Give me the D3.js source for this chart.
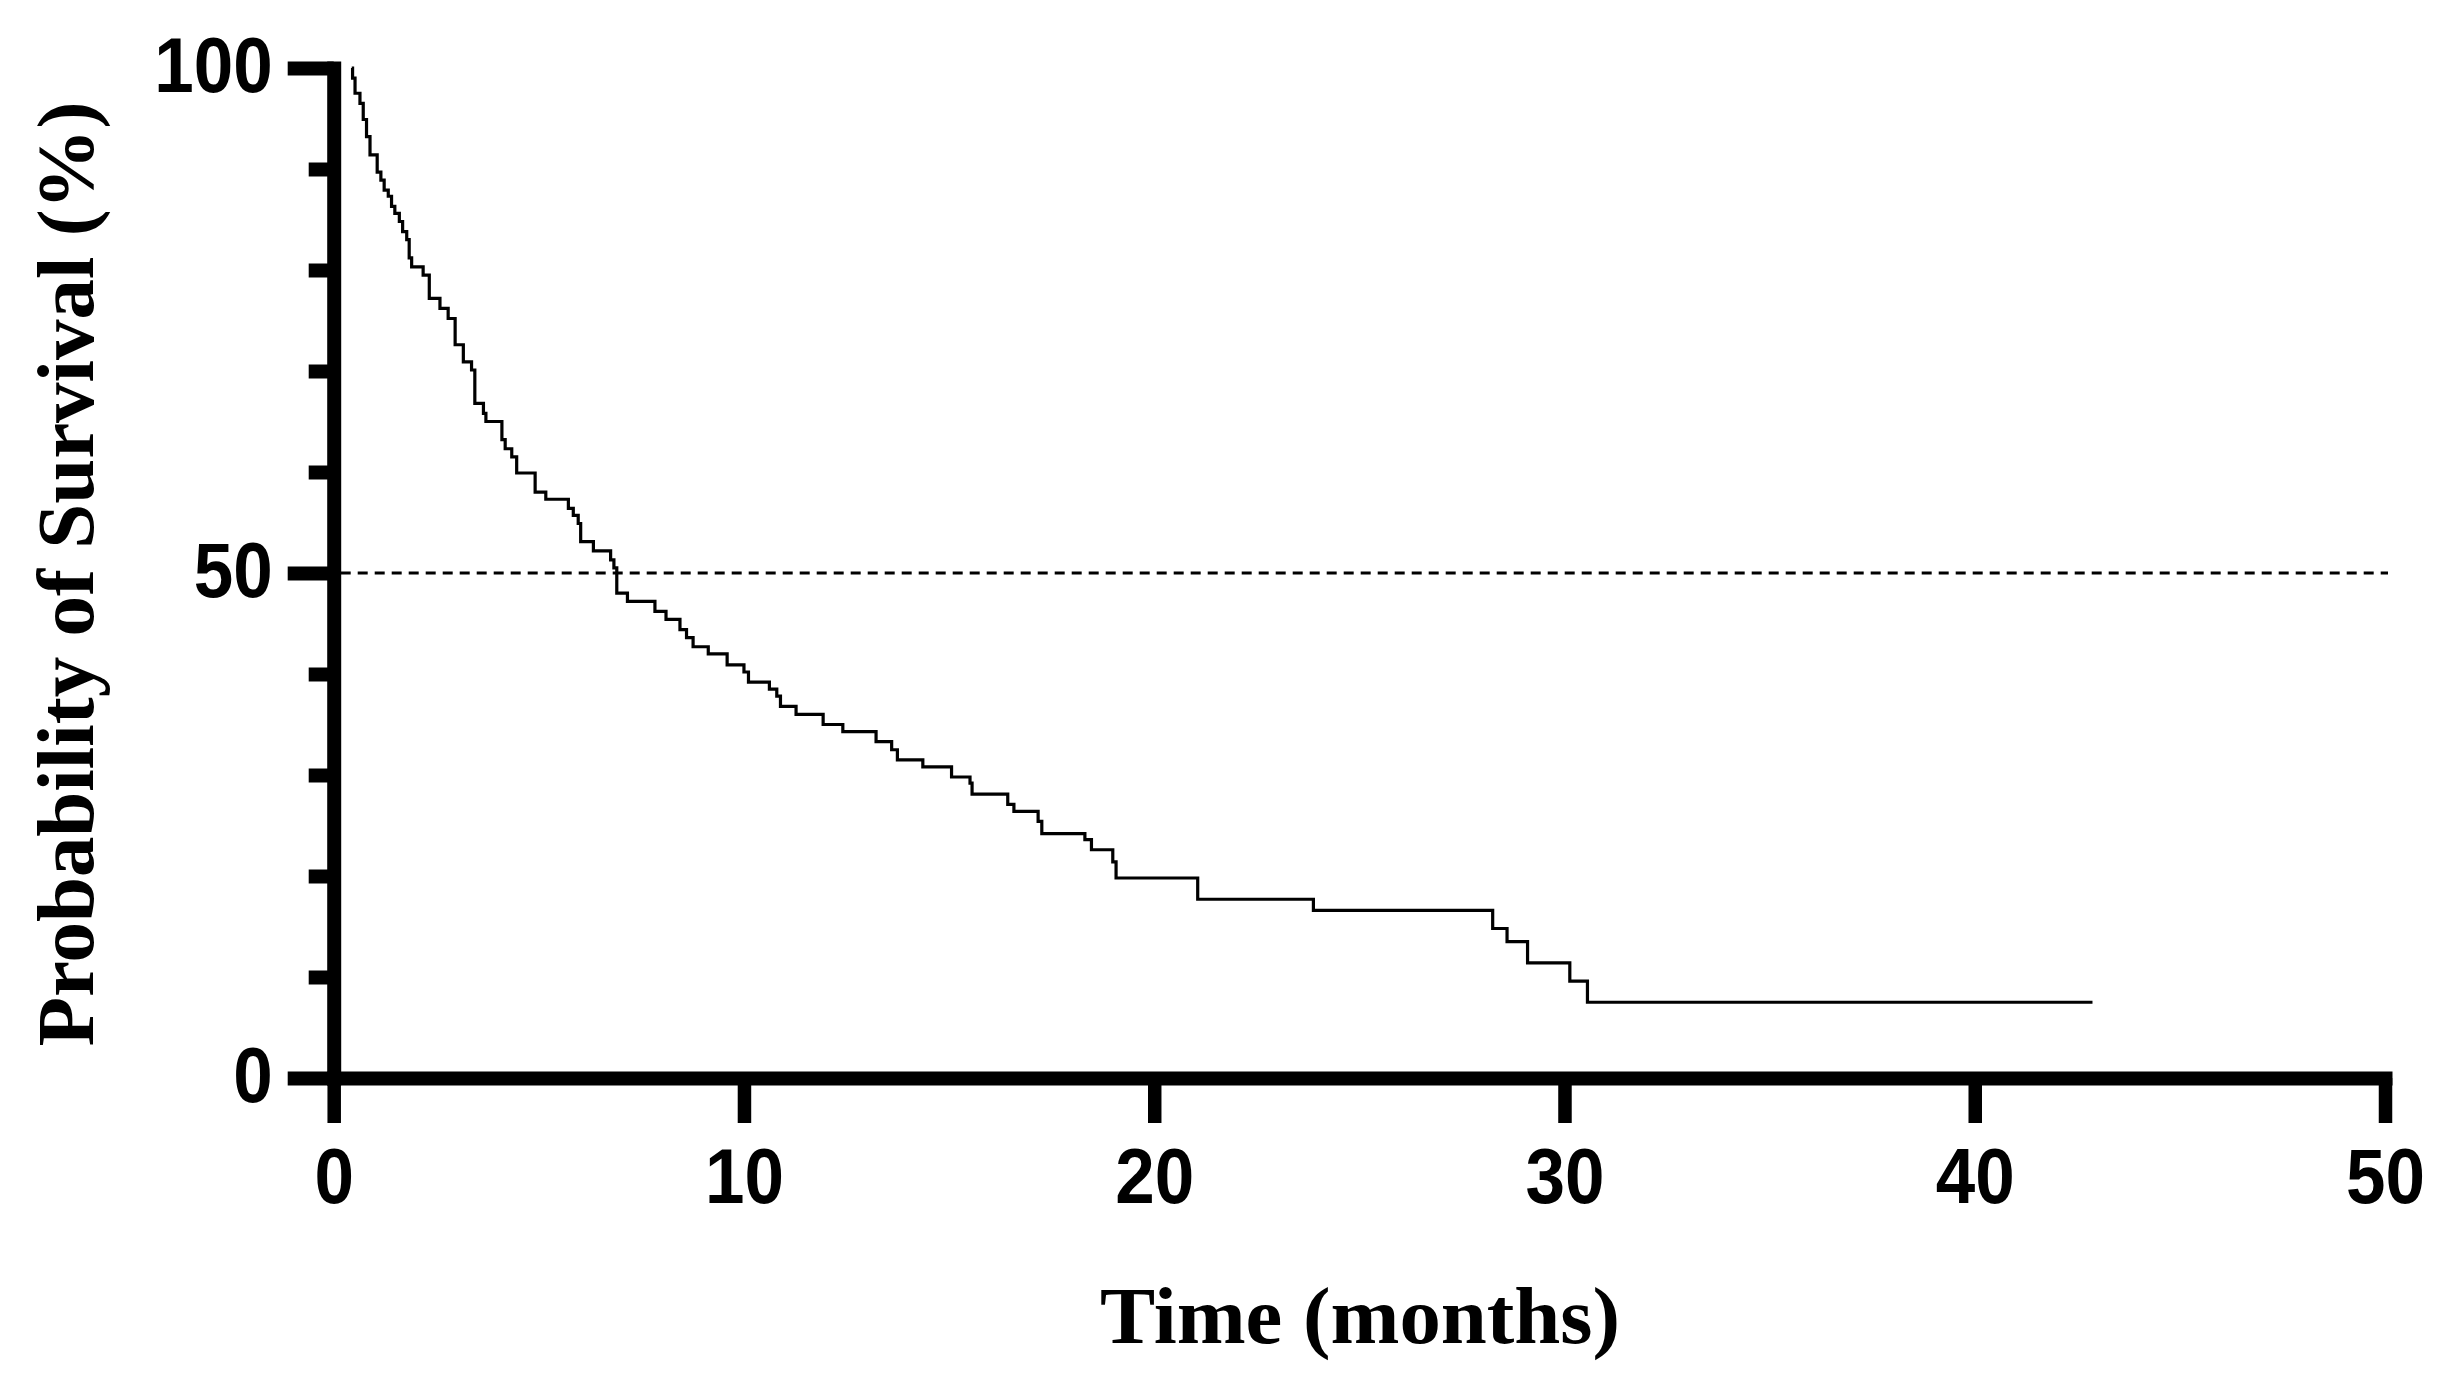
<!DOCTYPE html>
<html>
<head>
<meta charset="utf-8">
<script src="https://cdn.jsdelivr.net/npm/d3@7/dist/d3.min.js"></script>
<style>
  html, body { margin: 0; padding: 0; background: #ffffff; }
  svg { display: block; }
</style>
</head>
<body>
<svg id="chart" width="2463" height="1378"></svg>
<script>
// ---- Data ----
const times = [0.44, 0.46, 0.52, 0.64, 0.72, 0.80, 0.885, 1.06, 1.15, 1.23, 1.33, 1.41, 1.49, 1.60, 1.68, 1.78, 1.84, 1.90,
  2.18, 2.33, 2.59, 2.79, 2.96, 3.16, 3.36, 3.44, 3.65, 3.71, 4.10, 4.18, 4.34, 4.46, 4.91, 5.17, 5.72, 5.84, 5.96,
  6.02, 6.33, 6.75, 6.83, 6.90, 7.16, 7.83, 8.10, 8.44, 8.60, 8.76, 9.13, 9.59, 10.00, 10.11, 10.62, 10.80, 10.89,
  11.27, 11.93, 12.41, 13.22, 13.60, 13.74, 14.36, 15.06, 15.51, 15.56, 16.43, 16.58, 17.17, 17.26, 18.31, 18.47,
  18.99, 19.07, 21.06, 23.88, 28.25, 28.60, 29.10, 30.13, 30.56, 42.87];
const survival = [100, 99.0, 97.5, 96.5, 94.9, 93.2, 91.4, 89.7, 88.9, 87.9, 87.3, 86.3, 85.6, 84.8, 83.8, 83.0, 81.2, 80.3,
  79.5, 77.2, 76.2, 75.2, 72.6, 70.9, 70.1, 66.8, 65.8, 65.0, 63.2, 62.3, 61.5, 59.9, 58.0, 57.3, 56.4, 55.7, 54.9,
  53.1, 52.2, 51.3, 50.5, 48.0, 47.2, 46.2, 45.4, 44.4, 43.6, 42.7, 42.0, 40.9, 40.2, 39.2, 38.5, 37.8, 36.8,
  36.0, 35.0, 34.3, 33.3, 32.5, 31.5, 30.8, 29.8, 29.2, 28.1, 27.1, 26.4, 25.4, 24.2, 23.6, 22.6,
  21.4, 19.8, 17.7, 16.6, 14.8, 13.5, 11.4, 9.6, 7.5, 7.5];
const xTicks = [0, 10, 20, 30, 40, 50];
const yMajorTicks = [0, 50, 100];
const yMinorTicks = [10, 20, 30, 40, 60, 70, 80, 90];
const medianLine = 50;
const xTitle = "Time (months)";
const yTitle = "Probability of Survival (%)";

// ---- Scales ----
const svg = d3.select("#chart");
const x = d3.scaleLinear().domain([0, 50]).range([333.7, 2385]);
const y = d3.scaleLinear().domain([0, 100]).range([1078, 68]);

const tickFont = "'Liberation Sans', Arial, sans-serif";
const titleFont = "'Liberation Serif', 'Times New Roman', serif";

// ---- Median reference line (dashed) ----
svg.append("line")
  .attr("x1", x(0) + 7).attr("x2", x(50) + 3)
  .attr("y1", y(medianLine)).attr("y2", y(medianLine))
  .attr("stroke", "#000").attr("stroke-width", 3)
  .attr("stroke-dasharray", "10,7");

// ---- Survival curve ----
const pts = times.map((t, i) => [t, survival[i]]);
const line = d3.line().x(d => x(d[0])).y(d => y(d[1])).curve(d3.curveStepAfter);
svg.append("path")
  .datum(pts)
  .attr("d", line)
  .attr("fill", "none")
  .attr("stroke", "#000")
  .attr("stroke-width", 3.2);

// ---- Y axis ----
const yAxisG = svg.append("g").attr("transform", `translate(${x(0)},0)`);
// minor ticks
yAxisG.append("g")
  .call(d3.axisLeft(y).tickValues(yMinorTicks).tickSize(25).tickSizeOuter(0).tickFormat(""))
  .call(g => g.select(".domain").remove())
  .call(g => g.selectAll(".tick line").attr("stroke", "#000").attr("stroke-width", 14));
// major ticks + labels
yAxisG.append("g")
  .call(d3.axisLeft(y).tickValues(yMajorTicks).tickSize(46).tickSizeOuter(0).tickPadding(15).tickFormat(d3.format("d")))
  .call(g => g.select(".domain").attr("stroke", "#000").attr("stroke-width", 14).attr("stroke-linecap", "square"))
  .call(g => g.selectAll(".tick line").attr("stroke", "#000").attr("stroke-width", 14))
  .call(g => g.selectAll(".tick text")
    .attr("fill", "#000")
    .attr("font-family", tickFont)
    .attr("font-weight", "bold")
    .attr("font-size", 77)
    .attr("dy", "0.30em")
    .attr("textLength", d => String(d).length * 39.5)
    .attr("lengthAdjust", "spacingAndGlyphs"));

// ---- X axis ----
svg.append("g")
  .attr("transform", `translate(0,${y(0)})`)
  .call(d3.axisBottom(x).tickValues(xTicks).tickSize(45).tickSizeOuter(0).tickPadding(25).tickFormat(d3.format("d")))
  .call(g => g.select(".domain").attr("stroke", "#000").attr("stroke-width", 14).attr("stroke-linecap", "square"))
  .call(g => g.selectAll(".tick line").attr("stroke", "#000").attr("stroke-width", 13.5))
  .call(g => g.selectAll(".tick text")
    .attr("fill", "#000")
    .attr("font-family", tickFont)
    .attr("font-weight", "bold")
    .attr("font-size", 77)
    .attr("textLength", d => String(d).length * 39.5)
    .attr("lengthAdjust", "spacingAndGlyphs"));

// ---- Axis titles ----
svg.append("text")
  .attr("x", 1360).attr("y", 1343)
  .attr("text-anchor", "middle")
  .attr("font-family", titleFont)
  .attr("font-weight", "bold")
  .attr("font-size", 80)
  .attr("textLength", 520)
  .attr("lengthAdjust", "spacingAndGlyphs")
  .attr("fill", "#000")
  .text(xTitle);

svg.append("text")
  .attr("transform", "translate(93,574) rotate(-90)")
  .attr("text-anchor", "middle")
  .attr("font-family", titleFont)
  .attr("font-weight", "bold")
  .attr("font-size", 80)
  .attr("textLength", 945)
  .attr("lengthAdjust", "spacingAndGlyphs")
  .attr("fill", "#000")
  .text(yTitle);
</script>
</body>
</html>
